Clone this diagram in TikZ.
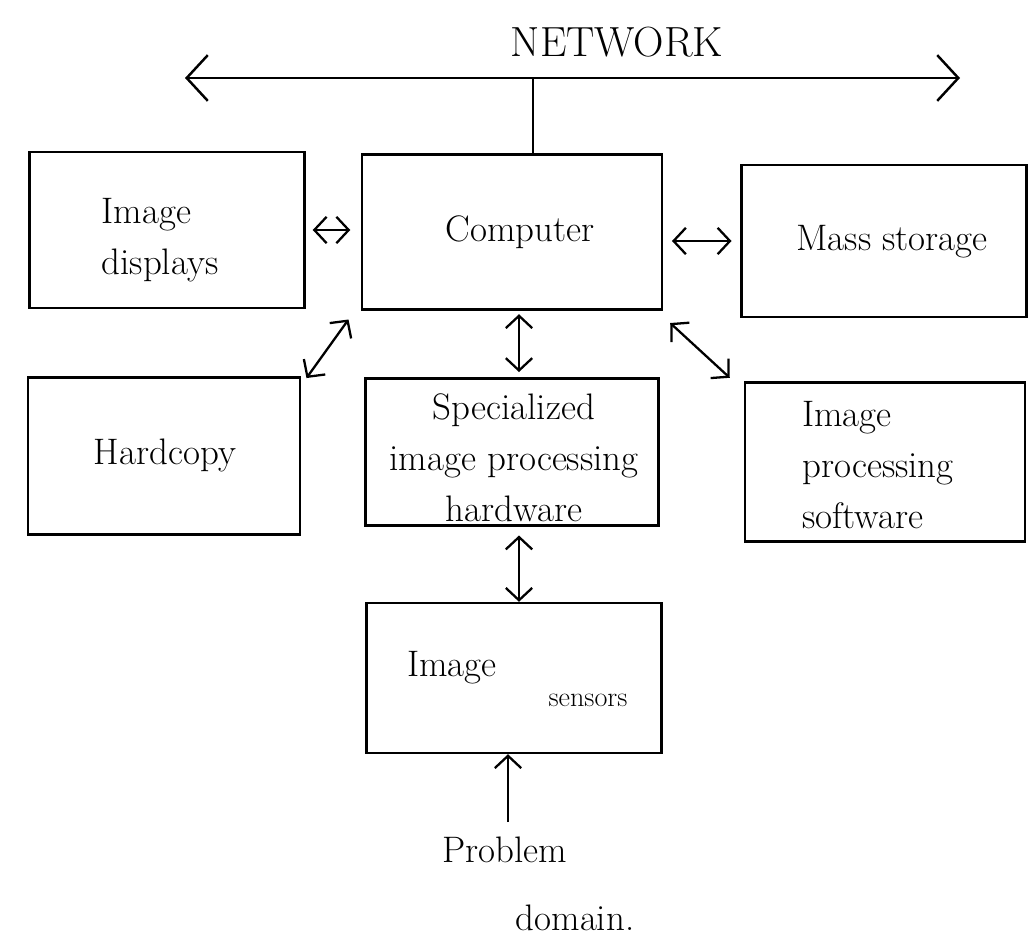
\documentclass[tikz,border=0pt]{standalone}
\usetikzlibrary{arrows.meta}
\begin{document}
\begin{tikzpicture}[x=0.02cm,y=-0.02cm,
  box/.style={draw, line width=1.4pt, inner sep=0pt},
  lbl/.style={font=\fontsize{21}{29}\selectfont, align=center, inner sep=0pt},
  link/.style={line width=1.3pt, {Straight Barb[length=7pt,width=15pt,line width=1.3pt]}-{Straight Barb[length=7pt,width=15pt,line width=1.3pt]}},
  into/.style={line width=1.3pt, -{Straight Barb[length=7pt,width=15pt,line width=1.3pt]}},
  net/.style={line width=1.6pt, {Straight Barb[length=12pt,width=26pt,line width=1.4pt]}-{Straight Barb[length=12pt,width=26pt,line width=1.4pt]}}]
\useasboundingbox (0,0) rectangle (1030,946);

% blocks
\node[box, minimum width=5.5cm,  minimum height=3.12cm] (disp) at (167,230) {};
\node[box, minimum width=6cm,    minimum height=3.1cm]  (comp) at (512,232) {};
\node[box, minimum width=5.7cm,  minimum height=3.04cm] (mass) at (884,241) {};
\node[box, minimum width=5.44cm, minimum height=3.14cm] (hard) at (164,456) {};
\node[box, minimum width=5.86cm, minimum height=2.94cm] (spec) at (512,452) {};
\node[box, minimum width=5.6cm,  minimum height=3.18cm] (soft) at (885,462) {};
\node[box, minimum width=5.9cm,  minimum height=3cm]    (sens) at (514,678) {};

% labels
\node[lbl, align=left] (tdisp) at (160,240) {Image\\displays};
\node[lbl] (tcomp) at (520,232) {Computer};
\node[lbl] (tmass) at (892,242) {Mass storage};
\node[lbl] (thard) at (165,455) {Hardcopy};
\node[lbl] (tspec) at (514,458) {Specialized\\image processing\\hardware};
\node[lbl, align=left] (tsoft) at (878,465) {Image\\processing\\software};
\node[lbl] (tsens1) at (452,668) {Image};
\node[lbl, font=\fontsize{16}{20}\selectfont] (tsens2) at (588,700) {sensors};
\node[lbl] (tprob) at (505,850) {Problem};
\node[lbl] (tdom) at (575,918) {domain.};
\node[lbl, font=\fontsize{24}{28}\selectfont] (tnet) at (617,42) {NETWORK};

% network bus
\coordinate (netL) at (185,78);
\coordinate (netR) at (960,78);
\coordinate (netJ) at (533,78);
\draw[net] (netL) -- (netR);
\draw[line width=1.4pt] (netJ) -- (netJ |- comp.north);

% connections
\draw[link] ([xshift=4pt]disp.east) -- ([xshift=-6pt]comp.west |- disp.east);
\draw[link] ([xshift=5pt]comp.east |- mass.west) -- ([xshift=-5pt]mass.west);
\draw[link] ([shift={(3pt,-1pt)}]hard.north east) -- ([shift={(-7pt,-5pt)}]comp.south west);
\draw[link] ([shift={(4pt,-7pt)}]comp.south east) -- ([shift={(-8pt,2pt)}]soft.north west);
\coordinate (cs) at (519,0);
\draw[link] ([yshift=-2pt]cs |- comp.south) -- ([yshift=3pt]cs |- spec.north);
\draw[link] ([yshift=-5pt]cs |- spec.south) -- (cs |- sens.north);
\coordinate (probTop) at (508,822);
\draw[into] (probTop) -- (probTop |- sens.south);
\end{tikzpicture}
\end{document}
